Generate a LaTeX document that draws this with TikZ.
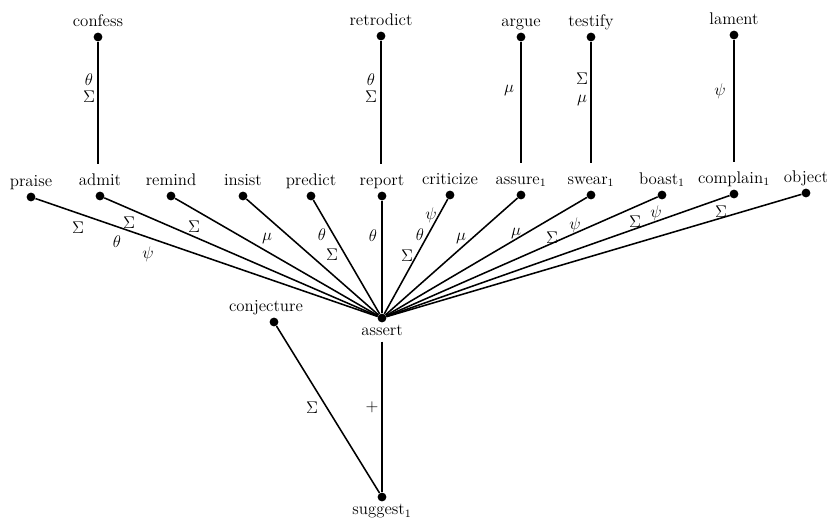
\documentclass[tikz,border=0pt]{standalone}
\usepackage{tikz}
\begin{document}
\begin{tikzpicture}
        [%%%%%%%%%%%%%%%%%%%%%%%%%%%%%%
        x=0.025cm,y=-0.025cm,
        dot/.style={circle,fill=black,inner sep=0pt,minimum size=0.22cm},
        edge/.style={line width=1.1pt},
        elab/.style={inner sep=0pt,font=\large},
        every label/.style={font=\large,inner sep=2pt,text height=1.6ex,text depth=0.5ex},
        ]%%%%%%%%%%%%%%%%%%%%%%%%%%%%%%
        \useasboundingbox (0,0) rectangle (829,522);

        % top row
        \foreach \nm/\x/\y in {confess/98/37,retrodict/381/36,argue/521/37,testify/591/37,lament/734/35}
          \node[dot,label={[name=\nm l]above:\nm}] (\nm) at (\x,\y) {};

        % middle row
        \foreach \nm/\x/\y/\txt in {praise/31/197/praise,admit/100/196/admit,remind/171/196/remind,
            insist/243/196/insist,predict/311/196/predict,report/382/196/report,
            criticize/450/195/criticize,assure/521/195/assure$_1$,swear/591/195/swear$_1$,
            boast/662/195/boast$_1$,complain/734/194/complain$_1$,object/806/193/object}
          \node[dot,label={[name=\nm l]above:\txt}] (\nm) at (\x,\y) {};

        \node[dot,label={[name=assertl]below:assert}] (assert) at (382,318) {};
        \node[dot,label={[name=conjecturel,xshift=-0.2cm]above:conjecture}] (conjecture) at (274,322) {};
        \node[dot,label={[name=suggestl]below:suggest$_1$}] (suggest) at (382,497) {};

        % verticals from the top
        \draw[edge,shorten >=6pt] (confess) -- (confess |- admitl.north)
          node[elab] at (89,80) {$\theta$} node[elab] at (89,97) {$\Sigma$};
        \draw[edge,shorten >=6pt] (retrodict) -- (retrodict |- reportl.north)
          node[elab] at (371,80) {$\theta$} node[elab] at (371,97) {$\Sigma$};
        \draw[edge,shorten >=6pt] (argue) -- (argue |- assurel.north)
          node[elab] at (509,91) {$\mu$};
        \draw[edge,shorten >=6pt] (testify) -- (testify |- swearl.north)
          node[elab] at (582,79) {$\Sigma$} node[elab] at (582,101) {$\mu$};
        \draw[edge,shorten >=6pt] (lament) -- (lament |- complainl.north)
          node[elab] at (720,91) {$\psi$};

        % fan into assert
        \draw[edge] (praise) -- (assert)
          node[elab] at (78,228) {$\Sigma$} node[elab] at (117,242) {$\theta$}
          node[elab] at (148,254) {$\psi$};
        \draw[edge] (admit) -- (assert) node[elab] at (129,223) {$\Sigma$};
        \draw[edge] (remind) -- (assert) node[elab] at (194,227) {$\Sigma$};
        \draw[edge] (insist) -- (assert) node[elab] at (267,238) {$\mu$};
        \draw[edge] (predict) -- (assert)
          node[elab] at (322,235) {$\theta$} node[elab] at (332,255) {$\Sigma$};
        \draw[edge] (report) -- (assert) node[elab] at (373,236) {$\theta$};
        \draw[edge] (criticize) -- (assert)
          node[elab] at (431,215) {$\psi$} node[elab] at (420,235) {$\theta$}
          node[elab] at (407,256) {$\Sigma$};
        \draw[edge] (assure) -- (assert) node[elab] at (461,238) {$\mu$};
        \draw[edge] (swear) -- (assert) node[elab] at (516,233) {$\mu$};
        \draw[edge] (boast) -- (assert)
          node[elab] at (552,238) {$\Sigma$} node[elab] at (575,225) {$\psi$};
        \draw[edge] (complain) -- (assert)
          node[elab] at (635,222) {$\Sigma$} node[elab] at (656,213) {$\psi$};
        \draw[edge] (object) -- (assert) node[elab] at (721,212) {$\Sigma$};

        % down to suggest
        \draw[edge] (assertl) -- (suggest) node[elab] at (372,407) {$+$};
        \draw[edge] (conjecture) -- (suggest) node[elab] at (312,408) {$\Sigma$};

      \end{tikzpicture}
\end{document}
